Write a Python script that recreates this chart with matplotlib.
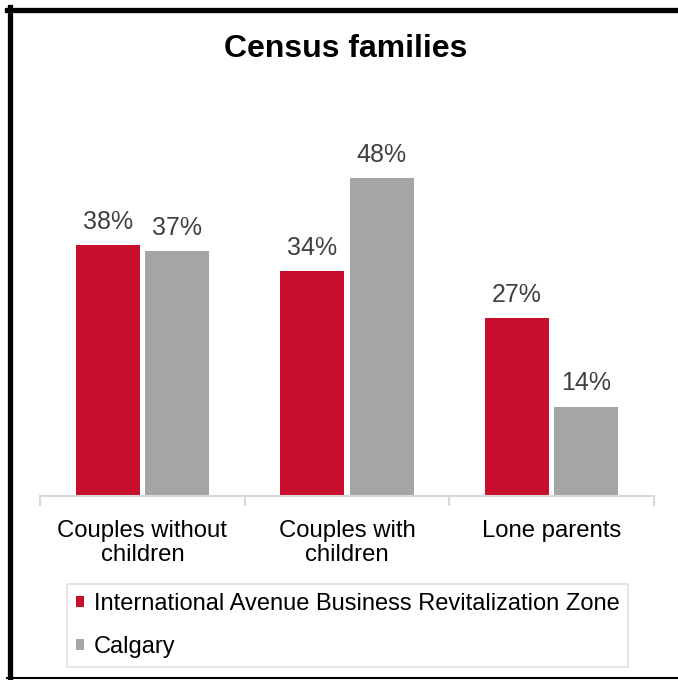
import numpy as np
import matplotlib
matplotlib.use("Agg")
import matplotlib.pyplot as plt
from matplotlib.lines import Line2D

categories = ["Couples without\nchildren", "Couples with\nchildren", "Lone parents"]
zone_vals = [37.9, 34.0, 26.8]
calgary_vals = [37.0, 48.0, 13.5]
series_names = ["International Avenue Business Revitalization Zone", "Calgary"]

RED = "#C8102E"
GREY = "#A5A5A5"

plt.rcParams['font.family'] = ['Liberation Sans', 'DejaVu Sans']

W, H = 678, 680
fig = plt.figure(figsize=(W / 100, H / 100), dpi=100)

# axes placed in pixel terms: x 40..654, baseline y=496, 6.625 px per %
ax_left, ax_right = 40, 654
ax_bottom, ax_top = 496, 140
ax = fig.add_axes([ax_left / W, 1 - ax_bottom / H, (ax_right - ax_left) / W, (ax_bottom - ax_top) / H])

x = np.arange(len(categories))
bw = 0.3127
off = 0.1686
b1 = ax.bar(x - off, zone_vals, bw, color=RED, label=series_names[0])
b2 = ax.bar(x + off, calgary_vals, bw, color=GREY, label=series_names[1])

for bars in (b1, b2):
    ax.bar_label(bars, labels=[f"{v:.0f}%" for v in bars.datavalues],
                 padding=8, fontsize=18, color="#404040")

ax.set_xlim(-0.5, 2.5)
ax.set_ylim(0, (ax_bottom - ax_top) / 6.625)

for s in ("top", "right", "left"):
    ax.spines[s].set_visible(False)
ax.spines["bottom"].set_color("#D9D9D9")
ax.spines["bottom"].set_linewidth(1.5)
ax.set_yticks([])

ax.set_xticks(x)
ax.set_xticklabels(categories, fontsize=17.2, color="#000000", linespacing=1.12)
ax.tick_params(axis="x", length=0, pad=17)
ax.set_xticks([-0.5, 0.5, 1.5, 2.5], minor=True)
ax.tick_params(axis="x", which="minor", length=7, color="#D9D9D9", width=1.5)

fig.text(346 / W, 1 - 49 / H, "Census families", ha="center", va="center",
         fontsize=23, fontweight="bold")

leg = fig.legend(loc="upper left", bbox_to_anchor=(67 / W, 1 - 584 / H),
                 fontsize=17, frameon=True, fancybox=False, edgecolor="#D9D9D9",
                 handlelength=0.35, handleheight=0.35, handletextpad=0.4,
                 labelspacing=0.9, borderpad=0.38, borderaxespad=0)
leg.get_frame().set_linewidth(1.2)

# outer border (top, left, bottom)
fig.add_artist(Line2D([7 / W, 1], [1 - 9.5 / H, 1 - 9.5 / H], color="black", lw=3.8, transform=fig.transFigure))
fig.add_artist(Line2D([9.5 / W, 9.5 / W], [1 - 7 / H, 1 - 679 / H], color="black", lw=3.8, transform=fig.transFigure))
fig.add_artist(Line2D([7 / W, 1], [1 - 678 / H, 1 - 678 / H], color="black", lw=1.5, transform=fig.transFigure))

fig.savefig("out.png", dpi=100)
